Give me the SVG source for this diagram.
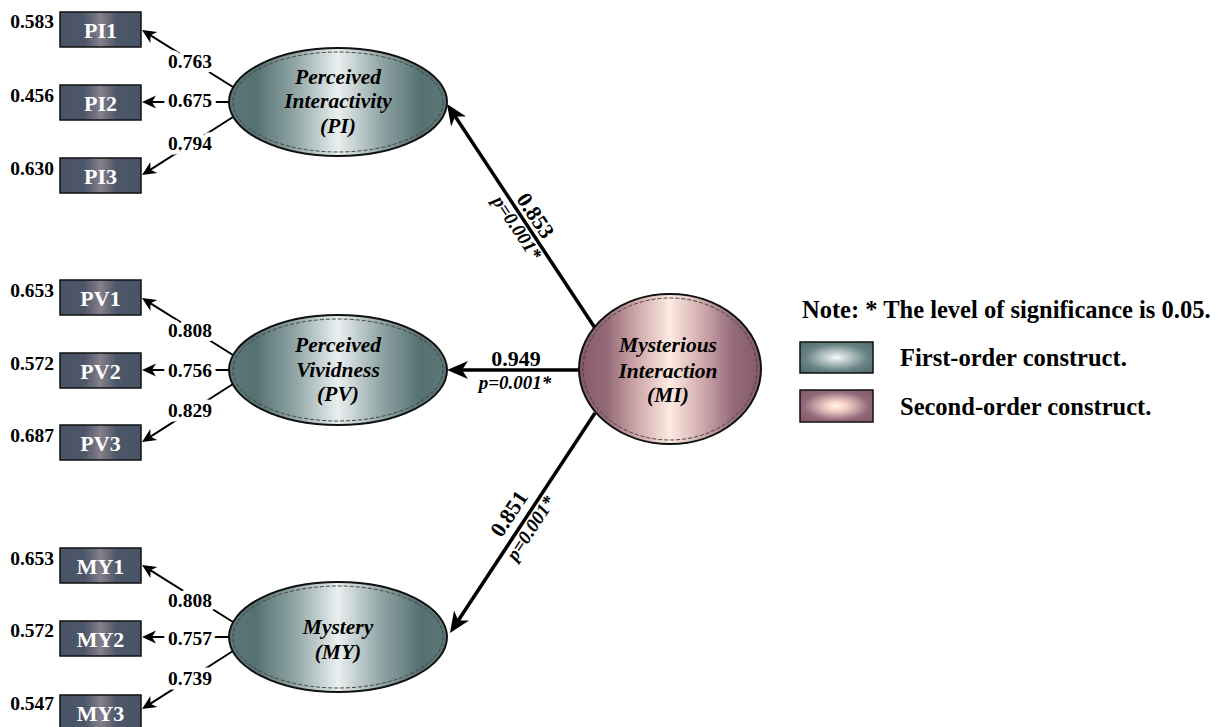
<svg xmlns="http://www.w3.org/2000/svg" width="1223" height="727" viewBox="0 0 1223 727">
<style>
text{font-family:"Liberation Serif","Times New Roman",serif;font-weight:bold;fill:#000}
.lnum{font-size:19.5px;text-anchor:end}
.lab{font-size:19.5px;text-anchor:middle;stroke:#fff;stroke-width:9;paint-order:stroke;stroke-linejoin:round}
.box{fill:url(#gBox);stroke:#111;stroke-width:1.5}
.boxt{font-size:22px;fill:#fff;text-anchor:middle}
.ell{stroke:#111;stroke-width:2}
.dash{fill:none;stroke:#444;stroke-width:1;stroke-dasharray:4 2}
.elt{font-size:21.5px;font-style:italic;text-anchor:middle}
.sm{stroke:#000;stroke-width:2;fill:none;marker-end:url(#aS)}
.big{stroke:#000;stroke-width:3.5;fill:none;marker-end:url(#aB)}
.coef{font-size:22px;text-anchor:middle}
.pv{font-size:19px;font-style:italic;text-anchor:middle}
.leg{font-size:24.5px}
</style>
<defs>
<linearGradient id="gBox" x1="0" y1="0" x2="1" y2="0">
<stop offset="0" stop-color="#4a5467"/><stop offset="0.3" stop-color="#4c5668"/><stop offset="0.5" stop-color="#85808b"/><stop offset="0.7" stop-color="#4c5668"/><stop offset="1" stop-color="#4a5467"/>
</linearGradient>
<linearGradient id="gFirst" x1="0" y1="0" x2="1" y2="0">
<stop offset="0" stop-color="#5e7879"/><stop offset="0.12" stop-color="#557071"/><stop offset="0.3" stop-color="#8fa4a4"/><stop offset="0.5" stop-color="#eaefef"/><stop offset="0.7" stop-color="#8fa4a4"/><stop offset="0.88" stop-color="#557071"/><stop offset="1" stop-color="#5e7879"/>
</linearGradient>
<linearGradient id="gSecond" x1="0" y1="0" x2="1" y2="0">
<stop offset="0" stop-color="#86596b"/><stop offset="0.15" stop-color="#946a79"/><stop offset="0.32" stop-color="#cfa8aa"/><stop offset="0.5" stop-color="#fdebe2"/><stop offset="0.68" stop-color="#cfa8aa"/><stop offset="0.85" stop-color="#946a79"/><stop offset="1" stop-color="#86596b"/>
</linearGradient>
<radialGradient id="rFirst" cx="0.5" cy="0.5" r="0.6">
<stop offset="0" stop-color="#f7f9f9"/><stop offset="0.7" stop-color="#6a8485"/><stop offset="1" stop-color="#577172"/>
</radialGradient>
<radialGradient id="rSecond" cx="0.5" cy="0.5" r="0.6">
<stop offset="0" stop-color="#fff4ec"/><stop offset="0.25" stop-color="#f5d0c6"/><stop offset="0.75" stop-color="#92687a"/><stop offset="1" stop-color="#875d6e"/>
</radialGradient>
<marker id="aS" viewBox="-11 -7 16 14" refX="0" refY="0" markerWidth="16" markerHeight="14" markerUnits="userSpaceOnUse" orient="auto">
<path d="M4,0 L-10,-6.5 L-6,0 L-10,6.5 Z" fill="#000"/>
</marker>
<marker id="aB" viewBox="-16 -10 24 20" refX="0" refY="0" markerWidth="24" markerHeight="20" markerUnits="userSpaceOnUse" orient="auto">
<path d="M6,0 L-15,-9 L-9,0 L-15,9 Z" fill="#000"/>
</marker>
</defs>
<rect width="1223" height="727" fill="#fff"/>

<g id="connectors">
<line class="sm" x1="233" y1="87" x2="145.4" y2="32.1"/>
<line class="sm" x1="230" y1="102" x2="146" y2="102"/>
<line class="sm" x1="233" y1="117" x2="145.4" y2="172.9"/>
<line class="sm" x1="233" y1="355" x2="145.4" y2="300.1"/>
<line class="sm" x1="230" y1="370" x2="146" y2="370"/>
<line class="sm" x1="233" y1="384" x2="145.4" y2="439.9"/>
<line class="sm" x1="233" y1="622" x2="145.4" y2="567.1"/>
<line class="sm" x1="230" y1="637" x2="146" y2="637"/>
<line class="sm" x1="233" y1="651" x2="145.4" y2="706.9"/>
<line class="big" x1="595" y1="328" x2="450.3" y2="109"/>
<line class="big" x1="580" y1="370" x2="453" y2="370"/>
<line class="big" x1="595" y1="413" x2="453.3" y2="628"/>
<text class="lab" x="190" y="68">0.763</text>
<text class="lab" x="190" y="107">0.675</text>
<text class="lab" x="190" y="150">0.794</text>
<text class="lab" x="190" y="337">0.808</text>
<text class="lab" x="190" y="377">0.756</text>
<text class="lab" x="190" y="417">0.829</text>
<text class="lab" x="190" y="607">0.808</text>
<text class="lab" x="190" y="645">0.757</text>
<text class="lab" x="190" y="685">0.739</text>
<g transform="translate(525.2,222.4) rotate(56.5)">
<text class="coef" x="0" y="-5">0.853</text>
<text class="pv" x="0" y="16">p=0.001*</text>
</g>
<text class="coef" x="516" y="366">0.949</text>
<text class="pv" x="515" y="389">p=0.001*</text>
<g transform="translate(522.6,522.8) rotate(-56.6)">
<text class="coef" x="0" y="-9">0.851</text>
<text class="pv" x="0" y="16">p=0.001*</text>
</g>
</g>

<g id="PI1"><rect class="box" x="60" y="12" width="81" height="35"/><text class="boxt" x="100.5" y="38">PI1</text><text class="lnum" x="54" y="28">0.583</text></g>
<g id="PI2"><rect class="box" x="60" y="85" width="81" height="35"/><text class="boxt" x="100.5" y="111">PI2</text><text class="lnum" x="54" y="102">0.456</text></g>
<g id="PI3"><rect class="box" x="60" y="158" width="81" height="35"/><text class="boxt" x="100.5" y="184">PI3</text><text class="lnum" x="54" y="175">0.630</text></g>
<g id="PV1"><rect class="box" x="60" y="280" width="81" height="35"/><text class="boxt" x="100.5" y="306">PV1</text><text class="lnum" x="54" y="297">0.653</text></g>
<g id="PV2"><rect class="box" x="60" y="353" width="81" height="35"/><text class="boxt" x="100.5" y="379">PV2</text><text class="lnum" x="54" y="370">0.572</text></g>
<g id="PV3"><rect class="box" x="60" y="425" width="81" height="35"/><text class="boxt" x="100.5" y="451">PV3</text><text class="lnum" x="54" y="442">0.687</text></g>
<g id="MY1"><rect class="box" x="60" y="548" width="81" height="35"/><text class="boxt" x="100.5" y="574">MY1</text><text class="lnum" x="54" y="565">0.653</text></g>
<g id="MY2"><rect class="box" x="60" y="621" width="81" height="35"/><text class="boxt" x="100.5" y="647">MY2</text><text class="lnum" x="54" y="637">0.572</text></g>
<g id="MY3"><rect class="box" x="60" y="695" width="81" height="35"/><text class="boxt" x="100.5" y="721">MY3</text><text class="lnum" x="54" y="710">0.547</text></g>

<g id="PI">
<ellipse class="ell" cx="338" cy="102" rx="109" ry="54" fill="url(#gFirst)"/>
<ellipse class="dash" cx="338" cy="102" rx="105" ry="50"/>
<text class="elt" x="338" y="84">Perceived</text>
<text class="elt" x="338" y="108">Interactivity</text>
<text class="elt" x="338" y="133">(PI)</text>
</g>
<g id="PV">
<ellipse class="ell" cx="338" cy="370" rx="109" ry="55" fill="url(#gFirst)"/>
<ellipse class="dash" cx="338" cy="370" rx="105" ry="51"/>
<text class="elt" x="338" y="352">Perceived</text>
<text class="elt" x="338" y="377">Vividness</text>
<text class="elt" x="338" y="401">(PV)</text>
</g>
<g id="MY">
<ellipse class="ell" cx="338" cy="637" rx="109" ry="55" fill="url(#gFirst)"/>
<ellipse class="dash" cx="338" cy="637" rx="105" ry="51"/>
<text class="elt" x="338" y="634">Mystery</text>
<text class="elt" x="338" y="659">(MY)</text>
</g>
<g id="MI">
<ellipse class="ell" cx="670" cy="369" rx="91" ry="75" fill="url(#gSecond)"/>
<ellipse class="dash" cx="670" cy="369" rx="87" ry="71"/>
<text class="elt" x="668" y="352">Mysterious</text>
<text class="elt" x="668" y="378">Interaction</text>
<text class="elt" x="668" y="402">(MI)</text>
</g>

<g id="legend">
<text class="leg" x="802" y="318">Note: * The level of significance is 0.05.</text>
<rect x="800" y="342" width="73" height="31" fill="url(#rFirst)" stroke="#111" stroke-width="1.5"/>
<text class="leg" x="900" y="366">First-order construct.</text>
<rect x="800" y="390" width="73" height="32" fill="url(#rSecond)" stroke="#111" stroke-width="1.5"/>
<text class="leg" x="900" y="415">Second-order construct.</text>
</g>
</svg>
